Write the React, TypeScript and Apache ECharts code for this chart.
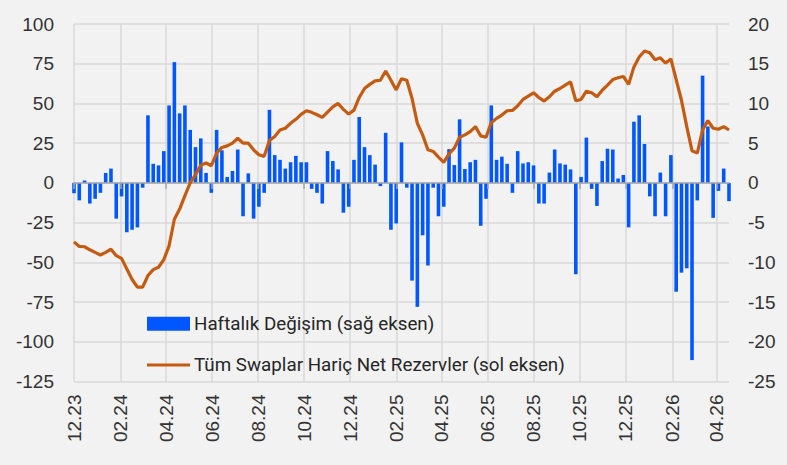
import React, { useEffect, useRef } from "react";
import * as echarts from "echarts";

// Weekly data starting Friday 2023-12-01 (125 weeks, through 2026-04-17)
const startDate = "2023-12-01";
const weekCount = 125;

// Tick labels (every two months)
const tickDates = [
  "2023-12-01", "2024-02-01", "2024-04-01", "2024-06-01", "2024-08-01",
  "2024-10-01", "2024-12-01", "2025-02-01", "2025-04-01", "2025-06-01",
  "2025-08-01", "2025-10-01", "2025-12-01", "2026-02-01", "2026-04-01",
];

// Haftalık Değişim (sağ eksen) – bn USD
const weeklyChange = [
  -1.3, -2.2, 0.3, -2.6, -2.0, -1.25, 1.25, 1.8, -4.5, -1.7,
  -6.2, -5.9, -5.6, -0.6, 8.5, 2.4, 2.2, 4.0, 9.75, 15.2,
  8.75, 9.75, 6.67, 4.5, 5.6, 1.25, -1.25, 6.67, 4.1, 0.75,
  1.5, 4.2, -4.2, 1.2, -4.5, -3.0, -1.25, 9.2, 3.5, 2.9,
  1.8, 2.6, 3.4, 2.6, 2.6, -0.75, -1.25, -2.6, 4.0, 2.75,
  1.7, -3.75, -3.0, 2.9, 8.3, 4.5, 3.5, 2.3, -0.4, 6.3,
  -5.9, -5.1, 5.1, -0.6, -12.3, -15.6, -6.6, -10.4, -0.6, -4.2,
  -3.0, 4.25, 2.25, 8.0, 1.75, 2.6, 2.9, -5.4, -2.0, 9.75,
  2.9, 3.3, 2.4, -1.25, 4.0, 2.45, 2.6, 2.2, -2.6, -2.6,
  1.3, 4.2, 2.45, 2.3, 1.7, -11.5, 0.75, 5.7, -0.75, -2.9,
  2.75, 4.3, 4.2, 0.55, 1.0, -5.6, 7.7, 8.5, 4.9, -1.7,
  -4.2, 1.3, -4.2, 3.5, -13.7, -11.3, -10.75, -22.3, -2.2, 13.5,
  7.1, -4.4, -1.0, 1.8, -2.3,
];

// Tüm Swaplar Hariç Net Rezervler (sol eksen) – bn USD
const netReserves = [
  -37.1, -40, -40.2, -42.1, -43.75, -45.4, -43.75, -41.7, -45.8, -47.5,
  -54.2, -60.8, -65.6, -65.6, -58.3, -54.6, -53.1, -48.3, -39.6, -22.9,
  -16.5, -8, 0, 5.2, 11, 12.5, 10.8, 18.75, 22.3, 23.3,
  25, 28.1, 25, 25, 20.8, 17.7, 16.7, 26.7, 29.2, 33.3,
  34.4, 37.5, 40, 43.1, 45.4, 44.4, 42.9, 41.25, 44.6, 47.9,
  50, 46.25, 43.3, 45.8, 53.75, 59.4, 62, 64.2, 64.6, 70.4,
  64.6, 58.5, 65.6, 64.6, 53.1, 37.5, 30.2, 20.8, 19.8, 16.25,
  12.9, 18.3, 21.9, 28.75, 30.2, 32.3, 35.4, 29.6, 28.75, 37.9,
  40.6, 42.7, 45.4, 45.6, 48.5, 52.5, 54.6, 56.7, 53.75, 51.5,
  54.2, 57.7, 59.4, 61.5, 63.5, 51.7, 52.5, 57.7, 56.7, 54.2,
  58.3, 61.5, 65, 66.2, 67, 62, 73, 79.2, 83, 81.9,
  77.5, 78.75, 75.4, 78, 65, 52, 35.4, 20.2, 18.75, 33.3,
  39.2, 34.4, 33.75, 35.4, 33.3,
];

const barName = "Haftalık Değişim (sağ eksen)";
const lineName = "Tüm Swaplar Hariç Net Rezervler (sol eksen)";
const barColor = "#0057ff";
const lineColor = "#c55a11";

const DAY = 86400000;
const toTs = (s: string) => {
  const [y, m, d] = s.split("-").map(Number);
  return Date.UTC(y, m - 1, d);
};
const startTs = toTs(startDate);
// x positions are days since the first week
const toDay = (ts: number) => (ts - startTs) / DAY;
const weekDays = Array.from({ length: weekCount }, (_, i) => i * 7);
const tickDays = tickDates.map((s) => toDay(toTs(s)));

const fmt = (day: number) => {
  const d = new Date(startTs + Math.round(day) * DAY);
  const m = String(d.getUTCMonth() + 1).padStart(2, "0");
  const y = String(d.getUTCFullYear() % 100).padStart(2, "0");
  return `${m}.${y}`;
};

export default function App() {
  const ref = useRef<HTMLDivElement>(null);
  useEffect(() => {
    document.body.style.margin = "0";
    document.body.style.background = "#f2f2f2";
    if (!ref.current) return;
    const chart = echarts.init(ref.current, undefined, { renderer: "svg" });
    const axisFont = { fontFamily: "Liberation Sans", fontSize: 19, color: "#333333" };
    const legendFont = { fontFamily: "Roboto", fontSize: 18.8, fill: "#262626" };
    const xMin = weekDays[0];
    const xMax = weekDays[weekDays.length - 1];
    chart.setOption({
      animation: false,
      backgroundColor: "#f2f2f2",
      grid: { left: 74, right: 58, top: 24, bottom: 83.5, containLabel: false },
      legend: { show: false, data: [barName, lineName] },
      graphic: [
        { type: "rect", z: 100, shape: { x: 147, y: 316.7, width: 43, height: 14 }, style: { fill: barColor } },
        {
          type: "text",
          z: 100,
          x: 194,
          y: 323.7,
          style: { text: barName, ...legendFont, verticalAlign: "middle", align: "left" },
        },
        {
          type: "line",
          z: 100,
          shape: { x1: 147, y1: 365, x2: 190, y2: 365 },
          style: { stroke: lineColor, lineWidth: 3 },
        },
        {
          type: "text",
          z: 100,
          x: 194,
          y: 364.5,
          style: { text: lineName, ...legendFont, verticalAlign: "middle", align: "left" },
        },
      ],
      xAxis: [
        {
          type: "value",
          min: xMin,
          max: xMax,
          position: "bottom",
          z: 3,
          axisLine: { show: true, onZero: true, onZeroAxisIndex: 0, lineStyle: { color: "#a6a6a6", width: 1.5 } },
          axisTick: { show: true, customValues: tickDays, length: 6, lineStyle: { color: "#a6a6a6", width: 1.5 } },
          axisLabel: { show: false, customValues: tickDays },
          splitLine: { show: false },
        },
        {
          type: "value",
          min: xMin,
          max: xMax,
          position: "bottom",
          z: 0,
          axisLine: { show: false, onZero: false },
          axisTick: { show: false, customValues: tickDays },
          splitLine: { show: true, lineStyle: { color: "#d9d9d9", width: 1.5 } },
          axisLabel: {
            show: true,
            customValues: tickDays,
            rotate: 90,
            margin: 13,
            formatter: (v: number) => fmt(v),
            ...axisFont,
          },
        },
      ],
      yAxis: [
        {
          type: "value",
          position: "left",
          min: -125,
          max: 100,
          interval: 25,
          axisLine: { show: false },
          axisTick: { show: false },
          axisLabel: { margin: 20, ...axisFont },
          splitLine: { show: true, lineStyle: { color: "#d9d9d9", width: 1.5 } },
        },
        {
          type: "value",
          position: "right",
          min: -25,
          max: 20,
          interval: 5,
          axisLine: { show: false },
          axisTick: { show: false },
          axisLabel: { margin: 19, ...axisFont },
          splitLine: { show: false },
        },
      ],
      series: [
        {
          name: barName,
          type: "bar",
          xAxisIndex: 0,
          yAxisIndex: 1,
          barWidth: 3.6,
          itemStyle: { color: barColor },
          data: weeklyChange.map((v, i) => [weekDays[i], v]),
        },
        {
          name: lineName,
          type: "line",
          xAxisIndex: 0,
          yAxisIndex: 0,
          symbol: "none",
          showSymbol: false,
          z: 4,
          lineStyle: { color: lineColor, width: 3.2 },
          itemStyle: { color: lineColor },
          data: netReserves.map((v, i) => [weekDays[i], v]),
        },
      ],
    });
    return () => chart.dispose();
  }, []);
  return <div ref={ref} style={{ width: 787, height: 465, background: "#f2f2f2" }} />;
}
